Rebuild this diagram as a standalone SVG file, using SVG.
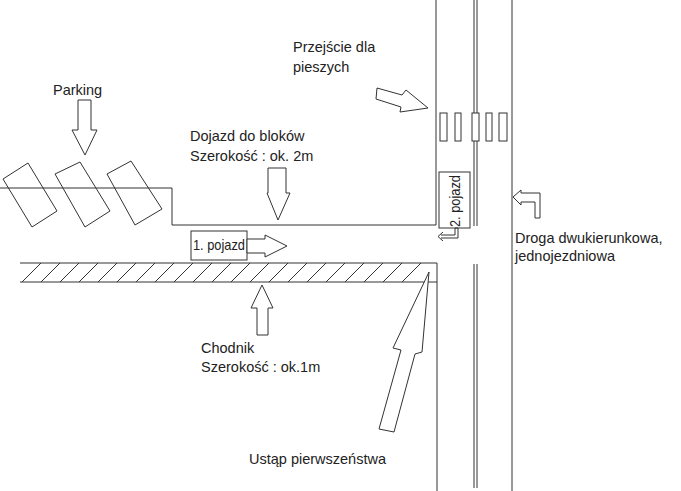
<svg xmlns="http://www.w3.org/2000/svg" width="681" height="491" viewBox="0 0 681 491">
<style>
.l{fill:none;stroke:#333;stroke-width:1}
.a{fill:#fff;stroke:#333;stroke-width:1}
text{font-family:"Liberation Sans",Arial,sans-serif;font-size:14.5px;fill:#222}
</style>
<rect width="681" height="491" fill="#fff"/>
<g id="road">
<polyline class="l" points="0,188 172,188 172,225 436,225 436,0"/>
<polyline class="l" points="20,263 437,263 437,491"/>
<line class="l" x1="20" y1="282" x2="437" y2="282"/>
<path class="l" stroke-width="0.8" d="M22,282l19,-19M41,282l19,-19M60,282l19,-19M79,282l19,-19M98,282l19,-19M117,282l19,-19M136,282l19,-19M155,282l19,-19M174,282l19,-19M193,282l19,-19M212,282l19,-19M231,282l19,-19M250,282l19,-19M269,282l19,-19M288,282l19,-19M307,282l19,-19M326,282l19,-19M345,282l19,-19M364,282l19,-19M383,282l19,-19M402,282l19,-19"/>
<line class="l" x1="474" y1="0" x2="474" y2="226"/>
<line class="l" x1="477" y1="0" x2="477" y2="226"/>
<line class="l" x1="474" y1="264" x2="474" y2="488"/>
<line class="l" x1="477" y1="264" x2="477" y2="488"/>
<line class="l" x1="512" y1="0" x2="512" y2="491"/>
</g>
<g id="crossing">
<rect class="a" x="440" y="113" width="7" height="28"/>
<rect class="a" x="455" y="113" width="6" height="28"/>
<rect class="a" x="472" y="113" width="7" height="28"/>
<rect class="a" x="486" y="113" width="6" height="28"/>
<rect class="a" x="499" y="113" width="8" height="28"/>
</g>
<g id="cars">
<polygon class="l" points="3,179 28,163 57,211 32,227"/>
<polygon class="l" points="55,174 80,162 110,211 85,227"/>
<polygon class="l" points="107,174 131,161 162,209 135,225"/>
</g>
<g id="vehicle1"><rect class="a" x="191" y="231" width="56" height="29"/><text x="193" y="250" font-size="12" textLength="52" lengthAdjust="spacingAndGlyphs">1. pojazd</text></g>
<g id="vehicle2"><rect class="a" x="439" y="172" width="31" height="56"/><text transform="translate(460,227) rotate(-90)" font-size="12" textLength="52" lengthAdjust="spacingAndGlyphs">2. pojazd</text></g>
<g id="connectors">
<polygon class="a" points="247,239 265,239 265,235 287,246 265,257 265,253 247,253"/>
<polygon class="a" points="268,168 286,168 286,193 290,193 278,220 267,193 268,193"/>
<polygon class="a" points="262,285 273,308 268,308 268,335 257,335 257,308 251,308"/>
<polygon class="a" points="78,100 91,100 91,130 97,130 85,155 72,130 78,130"/>
<polygon class="a" points="377,88 402,95 406,90 428,108 400,112 401,107 376,99"/>
<polygon class="a" points="429,272 422,352 415,354 394,432 379,429 401,350 393,348"/>
<polygon class="a" points="540,218 535,218 535,202 521,202 521,205 513,197 521,190 521,193 540,193"/>
<polyline class="l" points="455,228 458,228 458,238 441,238"/>
<polyline class="l" points="455,228 455,235 441,235"/>
<polyline class="l" points="443,232 438,236.5 443,241"/>
</g>
<g id="labels">
<text x="53" y="95">Parking</text>
<text x="293" y="52">Przejście dla</text>
<text x="293" y="72">pieszych</text>
<text x="190" y="141">Dojazd do bloków</text>
<text x="190" y="161">Szerokość : ok. 2m</text>
<text x="515" y="243">Droga dwukierunkowa,</text>
<text x="515" y="261">jednojezdniowa</text>
<text x="201" y="353">Chodnik</text>
<text x="201" y="372">Szerokość : ok.1m</text>
<text x="249" y="464">Ustąp pierwszeństwa</text>
</g>
</svg>
